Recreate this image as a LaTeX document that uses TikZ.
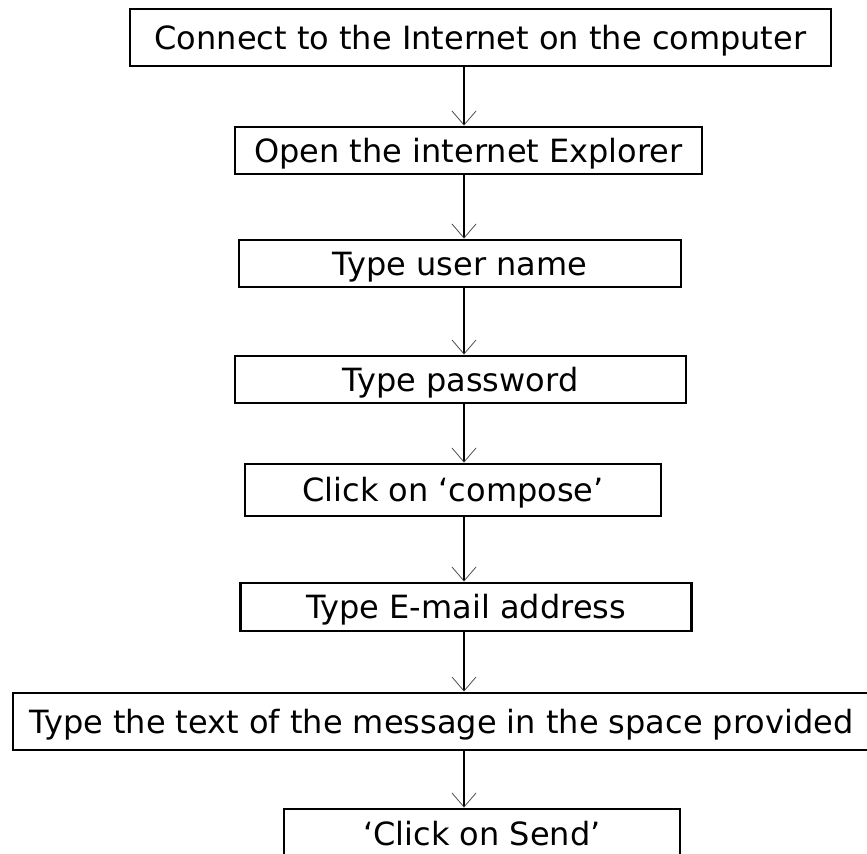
\documentclass[tikz,border=0pt]{standalone}
\usepackage{fontspec}
\setmainfont{DejaVu Sans}
\usetikzlibrary{arrows.meta}
\def\ArrowX{464}
\def\BoxLine{1.4pt}
\tikzset{
  stepbox/.style={draw, line width=\BoxLine, inner sep=0pt, align=center,
    text height=11.7pt, text depth=0pt,
    font=\fontsize{16pt}{19pt}\selectfont},
  flow/.style={line width=0.6pt,
    -{Straight Barb[length=7pt,width=12pt,line width=0.4pt,color=black!70]}}
}

\begin{document}
\begin{tikzpicture}[x=0.5pt,y=-0.5pt]
  % page
  \clip (0,0) rectangle (867,853);
  % steps
  \node[stepbox, minimum width=350.5pt, minimum height=28.5pt] (connect) at (480.5,37.5)
    {Connect to the Internet on the computer};
  \node[stepbox, minimum width=233.5pt, minimum height=23.5pt] (explorer) at (468.5,150.5)
    {Open the internet Explorer};
  \node[stepbox, minimum width=221pt, minimum height=23.5pt] (username) at (460,263.5)
    {Type user name};
  \node[stepbox, minimum width=225.5pt, minimum height=23.5pt] (password) at (460.5,379.5)
    {Type password};
  \node[stepbox, minimum width=208pt, minimum height=26pt] (compose) at (453,490)
    {Click on ‘compose’};
  \node[stepbox, minimum width=225.5pt, minimum height=24pt] (address) at (466,607)
    {Type E-mail address};
  \node[stepbox, minimum width=428.5pt, minimum height=28.5pt] (message) at (441.5,721.5)
    {Type the text of the message in the space provided};
  \node[stepbox, minimum width=198pt, minimum height=25pt] (send) at (482,834)
    {‘Click on Send’};
  % arrows
  \coordinate (ax) at (\ArrowX,0);
  \foreach \from/\to in {connect/explorer, explorer/username, username/password,
      password/compose, compose/address, address/message, message/send}
    {
      \draw[flow] (\from.south -| ax) -- (\to.north -| ax);
    }
\end{tikzpicture}
\end{document}
